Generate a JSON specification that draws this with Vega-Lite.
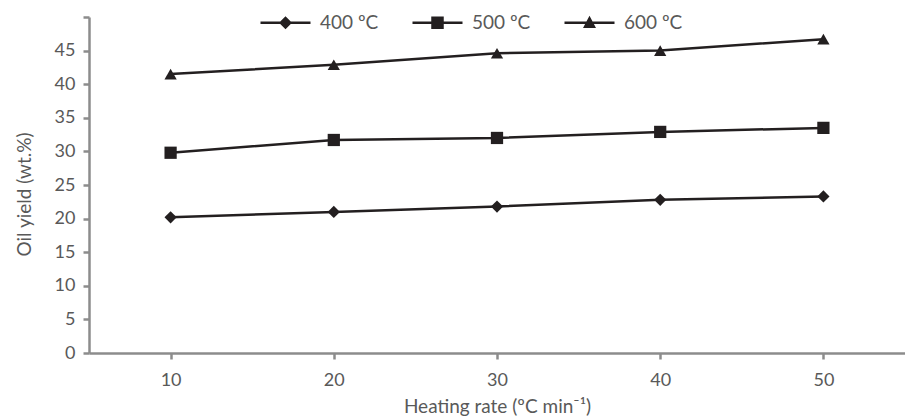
{
  "$schema": "https://vega.github.io/schema/vega-lite/v6.json",
  "width": 816,
  "height": 336,
  "autosize": {"type": "none"},
  "padding": {"left": 89, "top": 17, "right": 0, "bottom": 63},
  "background": "white",
  "config": {
    "font": "Lato",
    "view": {"stroke": null},
    "axis": {
      "grid": false,
      "domainColor": "#8c8c8c",
      "domainWidth": 2.5,
      "tickColor": "#8c8c8c",
      "tickWidth": 2.5,
      "tickSize": 6,
      "labelColor": "#595959",
      "labelFontSize": 18,
      "titleColor": "#595959",
      "titleFontSize": 19,
      "titleFontWeight": "normal"
    }
  },
  "data": {
    "values": [
      {"rate": 10, "temp": "400 ºC", "yield": 20.2},
      {"rate": 20, "temp": "400 ºC", "yield": 21.0},
      {"rate": 30, "temp": "400 ºC", "yield": 21.8},
      {"rate": 40, "temp": "400 ºC", "yield": 22.8},
      {"rate": 50, "temp": "400 ºC", "yield": 23.3},
      {"rate": 10, "temp": "500 ºC", "yield": 29.8},
      {"rate": 20, "temp": "500 ºC", "yield": 31.7},
      {"rate": 30, "temp": "500 ºC", "yield": 32.0},
      {"rate": 40, "temp": "500 ºC", "yield": 32.9},
      {"rate": 50, "temp": "500 ºC", "yield": 33.5},
      {"rate": 10, "temp": "600 ºC", "yield": 41.5},
      {"rate": 20, "temp": "600 ºC", "yield": 42.9},
      {"rate": 30, "temp": "600 ºC", "yield": 44.6},
      {"rate": 40, "temp": "600 ºC", "yield": 45.0},
      {"rate": 50, "temp": "600 ºC", "yield": 46.7}
    ]
  },
  "encoding": {
    "x": {
      "field": "rate",
      "type": "ordinal",
      "scale": {"type": "point", "padding": 0.5},
      "axis": {"title": "Heating rate (ºC min⁻¹)", "labelAngle": 0, "labelPadding": 12, "titlePadding": 8}
    },
    "y": {
      "field": "yield",
      "type": "quantitative",
      "scale": {"domain": [0, 50], "nice": false},
      "axis": {
        "title": "Oil yield (wt.%)",
        "values": [0, 5, 10, 15, 20, 25, 30, 35, 40, 45, 50],
        "labelExpr": "datum.value == 50 ? '' : datum.label",
        "labelPadding": 8,
        "titlePadding": 20,
        "titleY": 177
      }
    }
  },
  "layer": [
    {
      "mark": {"type": "line", "color": "#231f20", "strokeWidth": 2.5},
      "encoding": {"detail": {"field": "temp", "type": "nominal"}}
    },
    {
      "mark": {"type": "point", "filled": true, "opacity": 1, "color": "#231f20", "size": 150},
      "encoding": {
        "shape": {
          "field": "temp",
          "type": "nominal",
          "scale": {"range": ["diamond", "square", "triangle-up"]},
          "legend": null
        }
      }
    },
    {
      "mark": {"type": "point", "filled": true, "opacity": 0, "color": "#231f20", "size": 1},
      "encoding": {
        "shape": {
          "field": "temp",
          "type": "nominal",
          "scale": {"range": [
            "M-5,-0.25L5,-0.25L5,0.25L-5,0.25ZM0,-1.3L1.3,0L0,1.3L-1.3,0Z",
            "M-5,-0.25L5,-0.25L5,0.25L-5,0.25ZM-1.25,-1.25L1.25,-1.25L1.25,1.25L-1.25,1.25Z",
            "M-5,-0.25L5,-0.25L5,0.25L-5,0.25ZM0,-1.4L1.3,1.05L-1.3,1.05Z"
          ]},
          "legend": {
            "title": null,
            "orient": "none",
            "direction": "horizontal",
            "legendX": 187,
            "legendY": -4,
            "padding": 0,
            "symbolSize": 100,
            "symbolFillColor": "#231f20",
            "symbolStrokeColor": "#231f20",
            "symbolStrokeWidth": 0,
            "symbolOpacity": 1,
            "labelFontSize": 19,
            "labelColor": "#595959",
            "labelOffset": 25,
            "columnPadding": 33
          }
        }
      }
    }
  ],
  "resolve": {"scale": {"shape": "independent"}, "legend": {"shape": "independent"}}
}
